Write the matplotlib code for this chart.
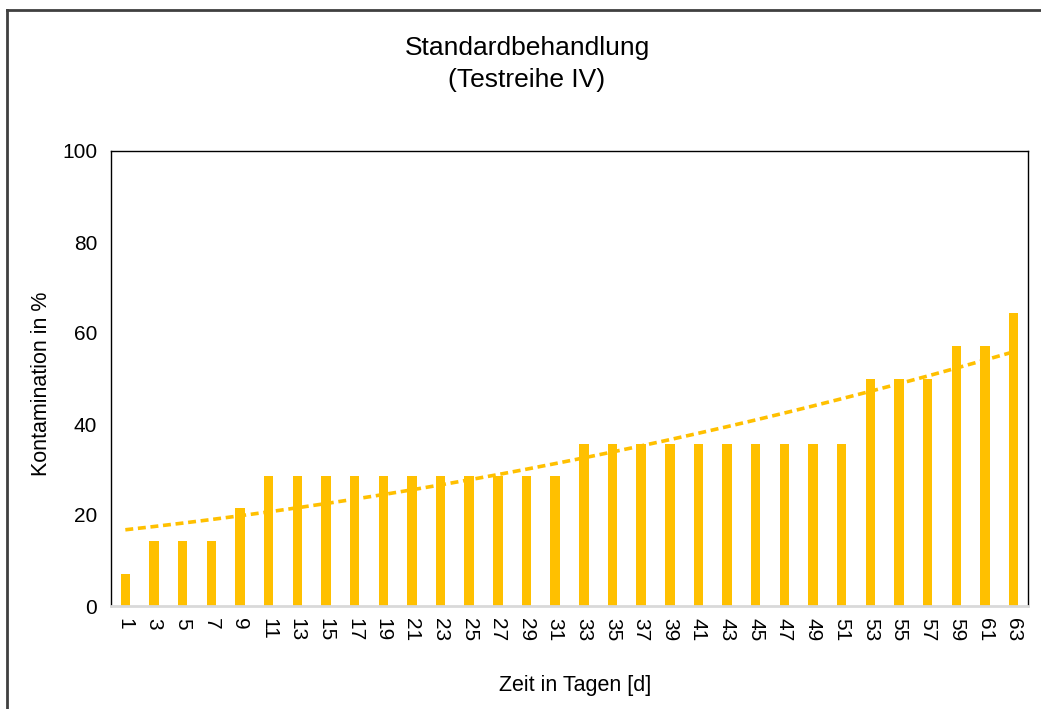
import numpy as np
import matplotlib.pyplot as plt
from matplotlib.lines import Line2D

plt.rcParams['font.family'] = ['Liberation Sans', 'DejaVu Sans']

# days of the test series (every second day)
days = list(range(1, 64, 2))

# contamination share in percent (n = 14 samples)
contamination = [7.14, 14.29, 14.29, 14.29, 21.43,
                 28.57, 28.57, 28.57, 28.57, 28.57, 28.57, 28.57, 28.57, 28.57, 28.57, 28.57,
                 35.71, 35.71, 35.71, 35.71, 35.71, 35.71, 35.71, 35.71, 35.71, 35.71,
                 50.0, 50.0, 50.0, 57.14, 57.14, 64.29]

bar_color = '#FFC000'
W, H = 1041, 709

fig = plt.figure(figsize=(W / 100, H / 100), dpi=100)
ax = fig.add_axes([111 / W, 1 - 606 / H, 917 / W, 455 / H])

pos = np.arange(len(days))
ax.bar(pos, contamination, width=0.33, color=bar_color, zorder=2)

# polynomial trend line (2nd order)
coef = np.polyfit(days, contamination, 2)
trend = np.polyval(coef, days)
ax.plot(pos, trend, color=bar_color, linestyle=(0, (2.2, 1.3)), linewidth=2.6, zorder=3)

ax.set_xlim(-0.5, len(days) - 0.5)
ax.set_ylim(0, 100)
ax.set_yticks([0, 20, 40, 60, 80, 100])
ax.set_xticks(pos)
ax.set_xticklabels([str(d) for d in days], rotation=-90)
ax.tick_params(axis='both', length=0, labelsize=15, colors='#000000')
ax.tick_params(axis='y', pad=10)
ax.tick_params(axis='x', pad=9)

for side in ['left', 'top', 'right']:
    ax.spines[side].set_color('#000000')
    ax.spines[side].set_linewidth(1.0)
ax.spines['bottom'].set_color('#D9D9D9')
ax.spines['bottom'].set_linewidth(2.0)

fig.text(575 / W, 1 - 686 / H, 'Zeit in Tagen [d]', ha='center', va='center', fontsize=15.5)
fig.text(42 / W, 1 - 384 / H, 'Kontamination in %', ha='center', va='center',
         rotation=90, fontsize=15.5)

fig.text(527 / W, 1 - 48 / H, 'Standardbehandlung', ha='center', va='center', fontsize=19)
fig.text(527 / W, 1 - 80 / H, '(Testreihe IV)', ha='center', va='center', fontsize=19)

# outer chart frame (left and top edges)
fig.add_artist(Line2D([7 / W, 7 / W], [0, 1 - 10 / H], color='#404040',
                      linewidth=2, transform=fig.transFigure))
fig.add_artist(Line2D([7 / W, 1], [1 - 10 / H, 1 - 10 / H], color='#404040',
                      linewidth=2, transform=fig.transFigure))

fig.savefig('out.png', dpi=100)
